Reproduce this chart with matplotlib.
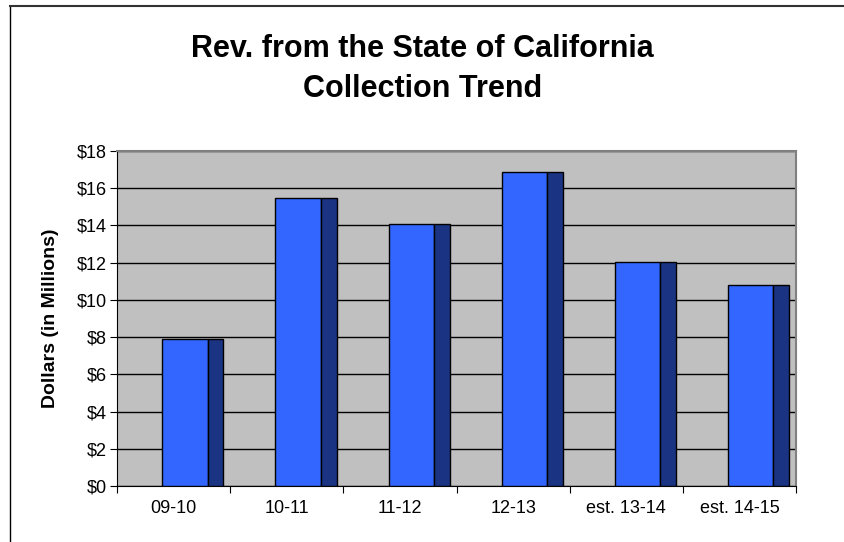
import matplotlib.pyplot as plt
from matplotlib.lines import Line2D

# fiscal years and revenue (millions of dollars)
years = ["09-10", "10-11", "11-12", "12-13", "est. 13-14", "est. 14-15"]
revenue = [7.9, 15.45, 14.07, 16.88, 12.03, 10.82]
y_ticks = [0, 2, 4, 6, 8, 10, 12, 14, 16, 18]

plt.rcParams['font.family'] = ['Liberation Sans', 'DejaVu Sans']

fig = plt.figure(figsize=(8.45, 5.42), dpi=100)
ax = fig.add_axes([117 / 845, 56 / 542, 679 / 845, 335 / 542])
ax.set_facecolor("#c0c0c0")

# front face and darker side face of each column
front_w = 0.40
side_w = 0.14
xs = [i + 0.4 for i in range(len(years))]
ax.bar(xs, revenue, width=front_w, align='edge', color="#3366ff",
       edgecolor="black", linewidth=1.0, zorder=3)
ax.bar([x + front_w for x in xs], revenue, width=side_w, align='edge',
       color="#1a3382", edgecolor="black", linewidth=1.0, zorder=3)

ax.set_xlim(0, len(years))
ax.set_ylim(0, 18)
ax.set_yticks(y_ticks)
ax.set_yticklabels([f"${v}" for v in y_ticks], fontsize=13)
ax.set_xticks(range(len(years) + 1))
ax.set_xticklabels([])
ax.set_xticks([i + 0.5 for i in range(len(years))], minor=True)
ax.set_xticklabels(years, minor=True, fontsize=13)
ax.tick_params(axis='x', which='minor', length=0, pad=10)
ax.tick_params(axis='x', which='major', length=5, direction='out')
ax.tick_params(axis='y', length=5, direction='out', pad=2)

ax.yaxis.grid(True, color="black", linewidth=1.0, zorder=1)
ax.set_axisbelow(True)
for s in ["top", "right"]:
    ax.spines[s].set_color("#808080")
    ax.spines[s].set_linewidth(1.5)
ax.spines["left"].set_color("black")
ax.spines["bottom"].set_color("black")

ax.set_ylabel("Dollars (in Millions)", fontsize=14, fontweight='bold')
ax.yaxis.set_label_coords((59 - 117) / 679, 0.5)

fig.text(0.5, 1 - 69 / 542, "Rev. from the State of California\nCollection Trend",
         ha='center', va='center', fontsize=22, fontweight='bold', linespacing=1.4)

# outer chart border (left and top edges visible)
fig.add_artist(Line2D([10 / 845, 10 / 845], [0, 1 - 6 / 542], color="black", lw=1.0))
fig.add_artist(Line2D([10 / 845, 1], [1 - 6 / 542, 1 - 6 / 542], color="#333333", lw=1.5))

fig.savefig("out.png", dpi=100)
